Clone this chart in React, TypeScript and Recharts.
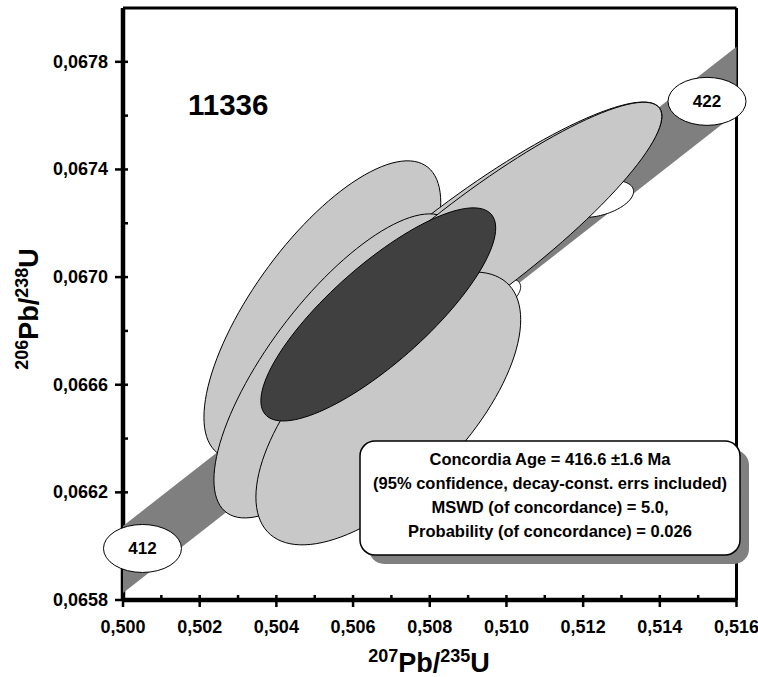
import React from 'react';
import { ScatterChart, Scatter, XAxis, YAxis, ReferenceLine } from 'recharts';

const xMajorTicks = [0.5, 0.502, 0.504, 0.506, 0.508, 0.51, 0.512, 0.514, 0.516];
const xMinorTicks = [0.501, 0.503, 0.505, 0.507, 0.509, 0.511, 0.513, 0.515];
const yMajorTicks = [0.0658, 0.0662, 0.0666, 0.067, 0.0674, 0.0678];
const yMinorTicks = [0.066, 0.0664, 0.0668, 0.0672, 0.0676];

// concordia band (decay-constant envelope), read at the two plot edges
const bandX = [0.5, 0.516];
const bandUpper = [0.066075, 0.067856];
const bandLower = [0.065826, 0.06761];

// age marks on the concordia
const ageLabels = [412, 422];
const ageX = [0.500508, 0.515231];
const ageY = [0.0659915, 0.067653];

// error ellipses, in drawing order (x, y, sigma x, sigma y, rho)
const ellipseKind = ['white', 'white', 'data', 'data', 'data', 'data', 'data', 'mean'];
const ellipseCx = [0.512404, 0.509824, 0.505199, 0.509246, 0.505587, 0.509303, 0.506919, 0.506658];
const ellipseCy = [0.0672907, 0.0669338, 0.0668781, 0.0671316, 0.0666699, 0.0671197, 0.0665119, 0.0668613];
const ellipseSx = [0.000912, 0.000547, 0.003088, 0.00481, 0.003216, 0.004748, 0.003453, 0.003062];
const ellipseSy = [0.0000691, 0.0000595, 0.000554, 0.000519, 0.000565, 0.00053, 0.000507, 0.000396];
const ellipseRho = [0.4, 0.5, 0.72, 0.899, 0.75, 0.901, 0.65, 0.81];

const sampleName = '11336';
const resultLines = [
  'Concordia Age = 416.6 ±1.6 Ma',
  '(95% confidence, decay-const. errs included)',
  'MSWD (of concordance) = 5.0,',
  'Probability (of concordance) = 0.026',
];

const FONT = '"Liberation Sans", Arial, sans-serif';
const fills: Record<string, string> = { white: '#ffffff', data: '#c8c8c8', mean: '#404040' };
const MARGIN = { top: 8, right: 21.5, bottom: 0, left: 0 };
const X_DOMAIN: [number, number] = [0.5, 0.516];
const Y_DOMAIN: [number, number] = [0.0658, 0.068];

const xTicks = [...xMajorTicks, ...xMinorTicks].sort((a, b) => a - b);
const yTicks = [...yMajorTicks, ...yMinorTicks].sort((a, b) => a - b);
const isIn = (arr: number[], v: number) => arr.some((t) => Math.abs(t - v) < 1e-9);

const bandPoints = [
  { x: bandX[0], y: bandUpper[0] },
  { x: bandX[1], y: bandUpper[1] },
  { x: bandX[1], y: bandLower[1] },
  { x: bandX[0], y: bandLower[0] },
];

const ageData = ageLabels.map((age, i) => ({ x: ageX[i], y: ageY[i], age }));

function ellipseVertices(i: number) {
  const pts = [];
  const k = Math.sqrt(1 - ellipseRho[i] * ellipseRho[i]);
  for (let s = 0; s <= 120; s++) {
    const t = (s / 120) * 2 * Math.PI;
    pts.push({
      x: ellipseCx[i] + ellipseSx[i] * Math.cos(t),
      y: ellipseCy[i] + ellipseSy[i] * (ellipseRho[i] * Math.cos(t) + k * Math.sin(t)),
    });
  }
  return pts;
}

const polygon = (fill: string, stroke: string) => (props: any) => {
  const pts = props.points || [];
  const d = pts.map((p: any, j: number) => `${j ? 'L' : 'M'}${p.x},${p.y}`).join(' ') + ' Z';
  return <path d={d} fill={fill} stroke={stroke} strokeWidth={1} />;
};

const noDot = () => <g />;

const XTick = (props: any) => {
  const { x, y, payload } = props;
  const v = payload.value;
  if (!isIn(xMajorTicks, v)) {
    return <line x1={x} x2={x} y1={y - 5} y2={y} stroke="#000" strokeWidth={2.5} />;
  }
  return (
    <g>
      <line x1={x} x2={x} y1={y - 5} y2={y + 7} stroke="#000" strokeWidth={2.5} />
      <text x={x} y={y + 33} textAnchor="middle" fontFamily={FONT} fontWeight="bold" fontSize={18} fill="#000">
        {v.toFixed(3).replace('.', ',')}
      </text>
    </g>
  );
};

const YTick = (props: any) => {
  const { x, y, payload } = props;
  const v = payload.value;
  if (!isIn(yMajorTicks, v)) {
    return <line x1={x} x2={x + 5} y1={y} y2={y} stroke="#000" strokeWidth={2.5} />;
  }
  return (
    <g>
      <line x1={x - 8} x2={x + 5} y1={y} y2={y} stroke="#000" strokeWidth={2.5} />
      <text x={x - 15} y={y + 6} textAnchor="end" fontFamily={FONT} fontWeight="bold" fontSize={18} fill="#000">
        {v.toFixed(4).replace('.', ',')}
      </text>
    </g>
  );
};

const AgeMark = (props: any) => {
  const { cx, cy, payload } = props;
  return (
    <g>
      <ellipse cx={cx} cy={cy} rx={39} ry={24} fill="#fff" stroke="#000" strokeWidth={1} />
      <text x={cx} y={cy + 6} textAnchor="middle" fontFamily={FONT} fontWeight="bold" fontSize={17} fill="#000">
        {payload.age}
      </text>
    </g>
  );
};

// titles and the result box sit above every chart layer
const Annotations = () => (
  <svg width={758} height={677} style={{ position: 'absolute', left: 0, top: 0, pointerEvents: 'none' }}>
    <g fontFamily={FONT} fontWeight="bold" fill="#000">
      <text x={188} y={115} fontSize={29.5}>{sampleName}</text>
      <text transform="translate(38,309) rotate(-90)" textAnchor="middle" fontSize={27}>
        <tspan fontSize={18} dy={-10}>206</tspan>
        <tspan dy={10}>Pb/</tspan>
        <tspan fontSize={18} dy={-10}>238</tspan>
        <tspan dy={10}>U</tspan>
      </text>
      <text x={429} y={672} textAnchor="middle" fontSize={27}>
        <tspan fontSize={18} dy={-10}>207</tspan>
        <tspan dy={10}>Pb/</tspan>
        <tspan fontSize={18} dy={-10}>235</tspan>
        <tspan dy={10}>U</tspan>
      </text>
      <rect x={369} y={450} width={380} height={114} rx={15} fill="#808080" />
      <rect x={360} y={441} width={380} height={114} rx={15} fill="#fff" stroke="#000" strokeWidth={1.5} />
      {resultLines.map((line, i) => (
        <text key={i} x={550} y={465 + i * 24} textAnchor="middle" fontSize={16.5}>
          {line}
        </text>
      ))}
    </g>
  </svg>
);

export default function App() {
  return (
    <div style={{ position: 'absolute', left: 0, top: 0, width: 758, height: 677, background: '#fff' }}>
      <ScatterChart width={758} height={677} margin={MARGIN}>
        <XAxis
          type="number"
          dataKey="x"
          domain={X_DOMAIN}
          ticks={xTicks}
          interval={0}
          tick={<XTick />}
          tickLine={false}
          tickSize={0}
          tickMargin={0}
          axisLine={{ stroke: '#000', strokeWidth: 4.5 }}
          height={77}
        />
        <YAxis
          type="number"
          dataKey="y"
          domain={Y_DOMAIN}
          ticks={yTicks}
          interval={0}
          tick={<YTick />}
          tickLine={false}
          tickSize={0}
          tickMargin={0}
          axisLine={{ stroke: '#000', strokeWidth: 4.5 }}
          width={123}
        />
        <Scatter data={bandPoints} shape={noDot} line={polygon('#7f7f7f', 'none')} isAnimationActive={false} />
        {ellipseKind.map((kind, i) => (
          <Scatter
            key={i}
            data={ellipseVertices(i)}
            shape={noDot}
            line={polygon(fills[kind], '#000')}
            isAnimationActive={false}
          />
        ))}
        <ReferenceLine x={0.516} stroke="#000" strokeWidth={3} />
        <ReferenceLine y={0.068} stroke="#000" strokeWidth={3} />
      </ScatterChart>
      {/* age marks cover the axes, so they go in a twin chart on top */}
      <div style={{ position: 'absolute', left: 0, top: 0 }}>
        <ScatterChart width={758} height={677} margin={MARGIN}>
          <XAxis type="number" dataKey="x" domain={X_DOMAIN} ticks={xTicks} tick={false} tickLine={false} axisLine={false} height={77} />
          <YAxis type="number" dataKey="y" domain={Y_DOMAIN} ticks={yTicks} tick={false} tickLine={false} axisLine={false} width={123} />
          <Scatter data={ageData} shape={<AgeMark />} isAnimationActive={false} />
        </ScatterChart>
      </div>
      <Annotations />
    </div>
  );
}
